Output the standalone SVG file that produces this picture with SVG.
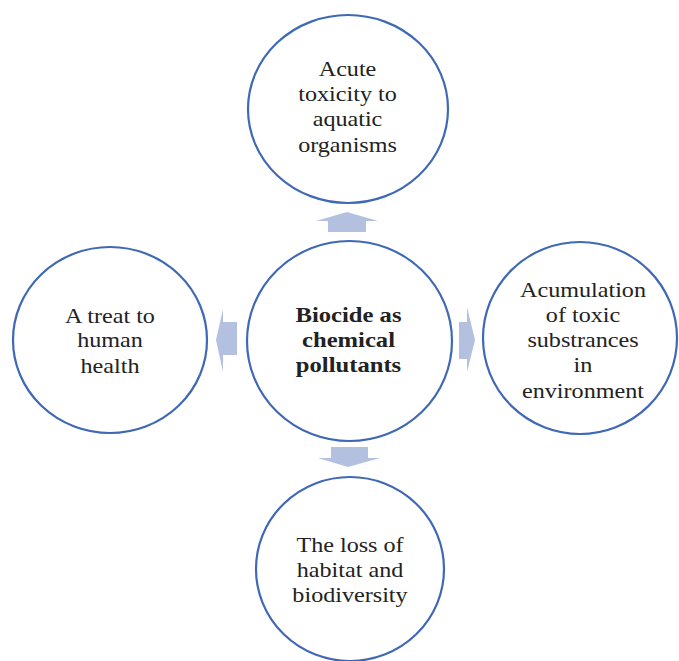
<svg xmlns="http://www.w3.org/2000/svg" width="679" height="661" viewBox="0 0 679 661">
<style>
.c{fill:#fff;stroke:#3f68b5;stroke-width:2.2}
.a{fill:#b4c0e0;stroke:none}
.t{font-family:"Liberation Serif","Times New Roman",serif;font-size:21px;fill:#222;text-anchor:middle}
.b{font-weight:bold;font-size:22px}
</style>
<rect width="679" height="661" fill="#fff"/>
<g id="connectors">
<polygon class="a" points="328,232 366,232 366,221 378,221 347,212 316,221 328,221"/>
<polygon class="a" points="237,322 237,355 223,355 223,372 216,340 223,309 223,322"/>
<polygon class="a" points="459,322 459,359 467,359 467,372 475,340 467,307 467,322"/>
<polygon class="a" points="331,447 368,447 368,458 380,458 348,467 318,458 331,458"/>
</g>
<g id="center">
<ellipse class="c" cx="349.5" cy="341" rx="102.5" ry="100"/>
<g transform="translate(348.5,0) scale(1.12,1)">
<text class="t b" x="0" y="322">Biocide as</text>
<text class="t b" x="0" y="347">chemical</text>
<text class="t b" x="0" y="372">pollutants</text>
</g>
</g>
<g id="top">
<ellipse class="c" cx="348" cy="109" rx="100" ry="94"/>
<g transform="translate(347.5,0) scale(1.15,1)">
<text class="t" x="0" y="76">Acute</text>
<text class="t" x="0" y="101">toxicity to</text>
<text class="t" x="0" y="126">aquatic</text>
<text class="t" x="0" y="152">organisms</text>
</g>
</g>
<g id="left">
<ellipse class="c" cx="110" cy="340" rx="97" ry="93"/>
<g transform="translate(110,0) scale(1.15,1)">
<text class="t" x="0" y="323">A treat to</text>
<text class="t" x="0" y="347">human</text>
<text class="t" x="0" y="373">health</text>
</g>
</g>
<g id="right">
<ellipse class="c" cx="580" cy="338" rx="97" ry="96"/>
<g transform="translate(583,0) scale(1.15,1)">
<text class="t" x="0" y="297">Acumulation</text>
<text class="t" x="0" y="322">of toxic</text>
<text class="t" x="0" y="347">substrances</text>
<text class="t" x="0" y="372">in</text>
<text class="t" x="0" y="398">environment</text>
</g>
</g>
<g id="bottom">
<ellipse class="c" cx="350" cy="569" rx="94" ry="92"/>
<g transform="translate(350,0) scale(1.15,1)">
<text class="t" x="0" y="552">The loss of</text>
<text class="t" x="0" y="577">habitat and</text>
<text class="t" x="0" y="602">biodiversity</text>
</g>
</g>
</svg>
